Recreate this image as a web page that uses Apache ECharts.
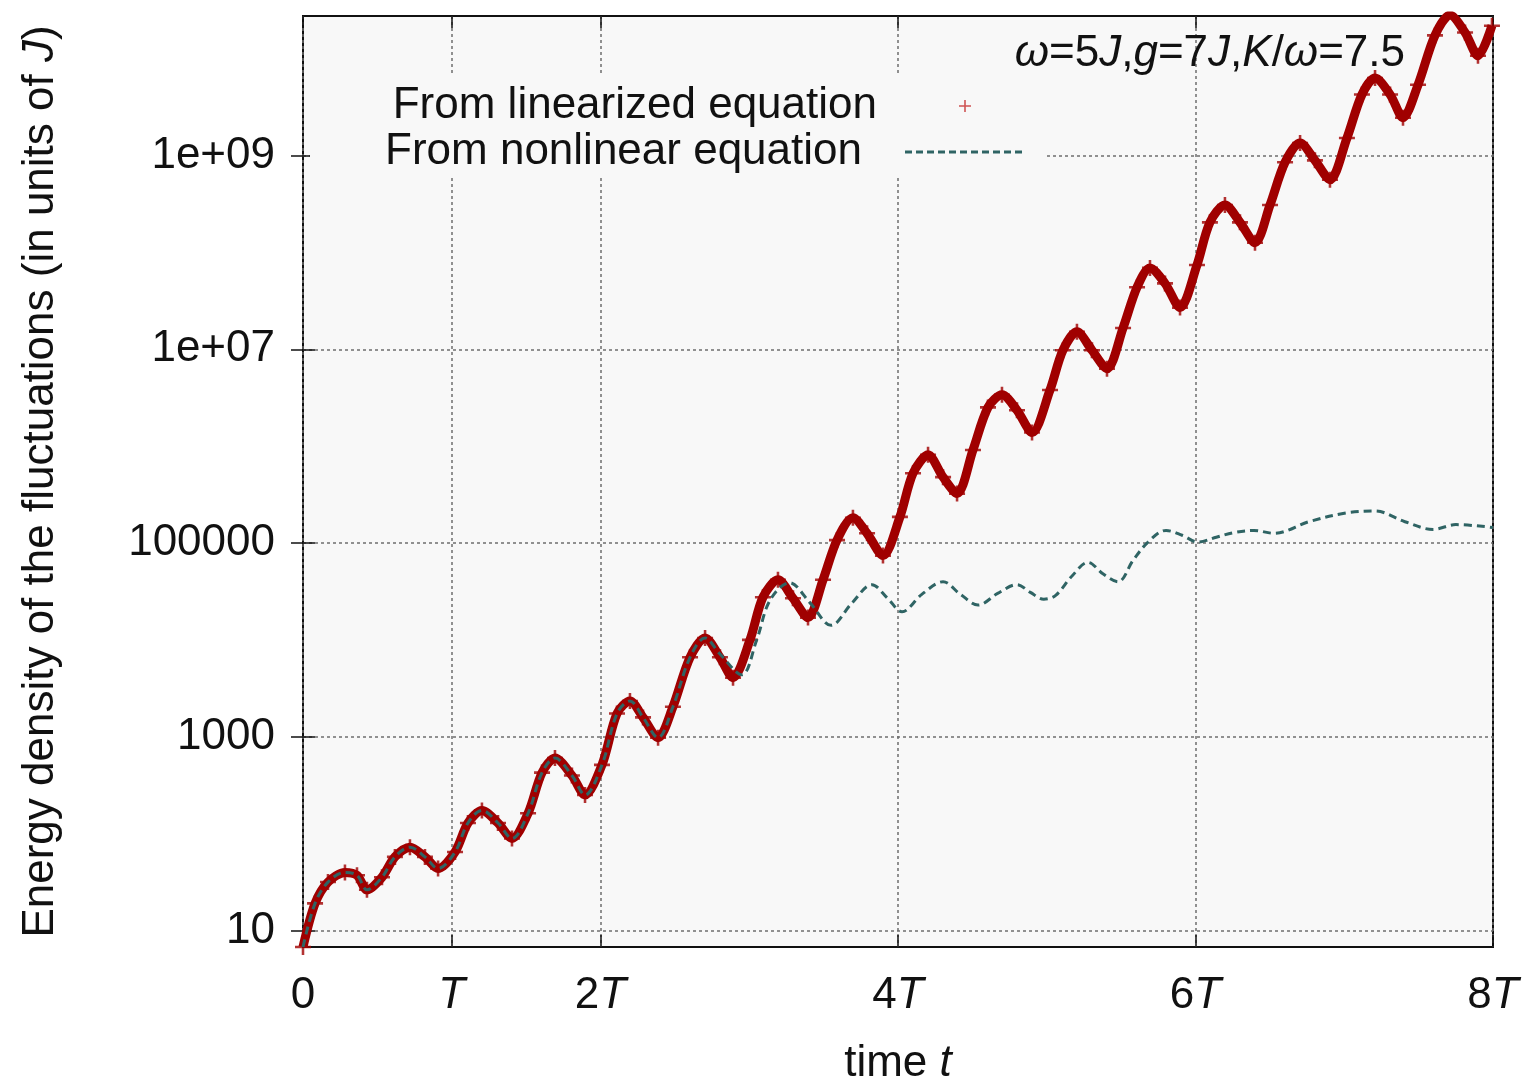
<!DOCTYPE html>
<html><head><meta charset="utf-8">
<script src="https://cdn.jsdelivr.net/npm/echarts@6/dist/echarts.min.js"></script>
<style>html,body{margin:0;padding:0;background:#fff}#c{width:1531px;height:1080px}</style>
</head><body><div id="c"></div>
<script>
// time in units of T
const linearT = [0, 0.081, 0.168, 0.282, 0.363, 0.430, 0.531, 0.618, 0.719, 0.820, 0.908, 1.022, 1.109, 1.203, 1.311, 1.405, 1.513, 1.607, 1.694, 1.808, 1.896, 2.010, 2.111, 2.198, 2.286, 2.387, 2.487, 2.602, 2.703, 2.803, 2.891, 3.005, 3.092, 3.193, 3.294, 3.395, 3.496, 3.590, 3.697, 3.792, 3.899, 4.013, 4.101, 4.202, 4.303, 4.397, 4.504, 4.605, 4.699, 4.800, 4.901, 5.022, 5.109, 5.203, 5.304, 5.405, 5.513, 5.607, 5.694, 5.795, 5.896, 6.010, 6.097, 6.198, 6.299, 6.400, 6.501, 6.602, 6.703, 6.803, 6.904, 7.018, 7.119, 7.207, 7.308, 7.395, 7.496, 7.610, 7.711, 7.812, 7.899, 7.993];
// log10 of energy density (units of J)
const linearLog10E = [0.83, 1.28, 1.50, 1.60, 1.57, 1.42, 1.55, 1.76, 1.86, 1.76, 1.64, 1.81, 2.11, 2.24, 2.11, 1.95, 2.21, 2.63, 2.78, 2.60, 2.40, 2.71, 3.24, 3.37, 3.20, 2.99, 3.31, 3.82, 4.02, 3.82, 3.61, 4.00, 4.44, 4.62, 4.43, 4.23, 4.62, 5.03, 5.26, 5.10, 4.87, 5.27, 5.72, 5.91, 5.68, 5.51, 5.96, 6.40, 6.53, 6.37, 6.14, 6.58, 6.99, 7.18, 6.99, 6.80, 7.22, 7.64, 7.84, 7.68, 7.43, 7.87, 8.31, 8.49, 8.31, 8.10, 8.49, 8.93, 9.13, 8.95, 8.75, 9.18, 9.63, 9.80, 9.63, 9.39, 9.73, 10.24, 10.45, 10.27, 10.03, 10.34];

const nonlinearT = [0, 0.081, 0.168, 0.282, 0.363, 0.430, 0.531, 0.618, 0.719, 0.820, 0.908, 1.022, 1.109, 1.203, 1.311, 1.405, 1.513, 1.607, 1.694, 1.808, 1.896, 2.010, 2.111, 2.198, 2.286, 2.387, 2.487, 2.602, 2.703, 2.80, 2.95, 3.05, 3.14, 3.27, 3.41, 3.55, 3.69, 3.825, 3.93, 4.027, 4.16, 4.303, 4.42, 4.538, 4.67, 4.80, 4.89, 4.98, 5.06, 5.17, 5.277, 5.38, 5.479, 5.58, 5.681, 5.802, 5.91, 6.017, 6.14, 6.266, 6.393, 6.528, 6.763, 7.012, 7.207, 7.408, 7.597, 7.751, 8.0];
const nonlinearLog10E = [0.83, 1.28, 1.50, 1.60, 1.57, 1.42, 1.55, 1.76, 1.86, 1.76, 1.64, 1.81, 2.11, 2.24, 2.11, 1.95, 2.21, 2.63, 2.78, 2.60, 2.40, 2.71, 3.24, 3.37, 3.20, 2.99, 3.31, 3.82, 4.02, 3.86, 3.64, 4.00, 4.41, 4.59, 4.38, 4.15, 4.38, 4.57, 4.43, 4.29, 4.47, 4.60, 4.47, 4.36, 4.48, 4.57, 4.49, 4.42, 4.46, 4.66, 4.80, 4.68, 4.60, 4.82, 5.01, 5.13, 5.08, 5.01, 5.06, 5.11, 5.13, 5.10, 5.22, 5.31, 5.33, 5.22, 5.14, 5.19, 5.16];

const xTickValues = [0, 1, 2, 4, 6, 8];
const xTickLabels = ['0', 'T', '2T', '4T', '6T', '8T'];
const yTickExponents = [1, 3, 5, 7, 9];
const yTickLabels = ['10', '1000', '100000', '1e+07', '1e+09'];
const seriesNames = ['From linearized equation', 'From nonlinear equation'];

const FONT = 'Liberation Sans';
const FS = 44;
const RED = '#a00000';
const TEAL = '#2f6464';
const PLOTBG = '#f8f8f8';

const zipPts = (xs, ys) => xs.map((x, i) => [x, ys[i]]);
const italicT = s => s.replace('T', '{i|T}');
const richI = { i: { fontStyle: 'italic', fontSize: FS, fontFamily: FONT, color: '#111' } };

const crossSymbol = 'path://M4.2,0h1.6v4.2h4.2v1.6h-4.2v4.2h-1.6v-4.2h-4.2v-1.6h4.2z';
// legend icons
const legIcon1 = 'path://M0,0h0.01v0.01z M143,14h-0.01v-0.01z M82.2,1h1.6v5.2h5.2v1.6h-5.2v5.2h-1.6v-5.2h-5.2v-1.6h5.2z';
let dashes = '';
for (let i = 0; i < 11; i++) { dashes += ' M' + (38 + i * 11) + ',5.6h7v2.8h-7z'; }
const legIcon2 = 'path://M0,0h0.01v0.01z M158,14h-0.01v-0.01z' + dashes;

const gridLine = { show: true, lineStyle: { color: '#6e6e6e', width: 1.5, type: [3, 3] } };
const tick = { show: true, inside: true, length: 12, lineStyle: { color: '#111', width: 1.5 } };

const chart = echarts.init(document.getElementById('c'), null, { renderer: 'canvas' });
chart.setOption({
  animation: false,
  backgroundColor: '#fff',
  textStyle: { fontFamily: FONT },
  grid: { left: 303, right: 38, top: 16, bottom: 133, show: true, backgroundColor: PLOTBG, borderColor: '#111', borderWidth: 2, containLabel: false, outerBoundsMode: 'none' },
  title: {
    text: '{i|ω}=5{i|J},{i|g}=7{i|J},{i|K}/{i|ω}=7.5',
    right: 126, top: 32, padding: 0,
    textStyle: { fontFamily: FONT, fontSize: FS, fontWeight: 'normal', color: '#111', rich: richI }
  },
  legend: [
    { data: [{ name: seriesNames[0], icon: legIcon1 }], right: 506, top: 84, padding: 0, align: 'right',
      itemWidth: 143, itemHeight: 14, itemStyle: { color: '#c42a2a', borderWidth: 0 },
      textStyle: { fontFamily: FONT, fontSize: FS, color: '#111' } },
    { data: [{ name: seriesNames[1], icon: legIcon2 }], right: 506, top: 130, padding: 0, align: 'right',
      itemWidth: 158, itemHeight: 14, itemStyle: { color: TEAL, borderWidth: 0 },
      textStyle: { fontFamily: FONT, fontSize: FS, color: '#111' } }
  ],
  graphic: [{ type: 'rect', left: 310, top: 75, z: 1, shape: { width: 735, height: 100 }, style: { fill: PLOTBG } }],
  xAxis: [
    { type: 'value', min: 0, max: 8, position: 'bottom',
      axisLine: { show: false }, axisTick: Object.assign({ customValues: xTickValues }, tick),
      splitLine: gridLine,
      axisLabel: { customValues: xTickValues, margin: 27, fontSize: FS, fontFamily: FONT, color: '#111',
        formatter: v => italicT(xTickLabels[xTickValues.indexOf(v)] || ''), rich: richI },
      name: 'time {i|t}', nameLocation: 'middle', nameGap: 95,
      nameTextStyle: { fontSize: FS, fontFamily: FONT, color: '#111', rich: richI } },
    { type: 'value', min: 0, max: 8, position: 'top',
      axisLine: { show: false }, axisTick: Object.assign({ customValues: xTickValues }, tick),
      splitLine: { show: false }, axisLabel: { show: false } }
  ],
  yAxis: [
    { type: 'value', min: 0.83, max: 10.44, position: 'left',
      axisLine: { show: false }, axisTick: Object.assign({ customValues: yTickExponents }, tick),
      splitLine: gridLine,
      axisLabel: { customValues: yTickExponents, margin: 28, fontSize: FS, fontFamily: FONT, color: '#111',
        formatter: v => yTickLabels[yTickExponents.indexOf(v)] || '' },
      name: 'Energy density of the fluctuations (in units of {i|J})', nameLocation: 'middle', nameGap: 240,
      nameTextStyle: { fontSize: FS, fontFamily: FONT, color: '#111', rich: richI } },
    { type: 'value', min: 0.83, max: 10.44, position: 'right',
      axisLine: { show: false }, axisTick: Object.assign({ customValues: yTickExponents }, tick),
      splitLine: { show: false }, axisLabel: { show: false } }
  ],
  series: [
    { name: seriesNames[0], type: 'line', xAxisIndex: 0, yAxisIndex: 0,
      data: zipPts(linearT, linearLog10E), smooth: 0.3, z: 3,
      symbol: crossSymbol, symbolSize: 16, showSymbol: true,
      itemStyle: { color: RED, opacity: 0.8 },
      lineStyle: { color: RED, width: 9 } },
    { name: seriesNames[1], type: 'line', xAxisIndex: 0, yAxisIndex: 0,
      data: zipPts(nonlinearT, nonlinearLog10E), smooth: 0.35, z: 4,
      symbol: 'none', showSymbol: false,
      itemStyle: { color: TEAL },
      lineStyle: { color: TEAL, width: 3, type: [8, 5] } }
  ]
});
</script></body></html>
